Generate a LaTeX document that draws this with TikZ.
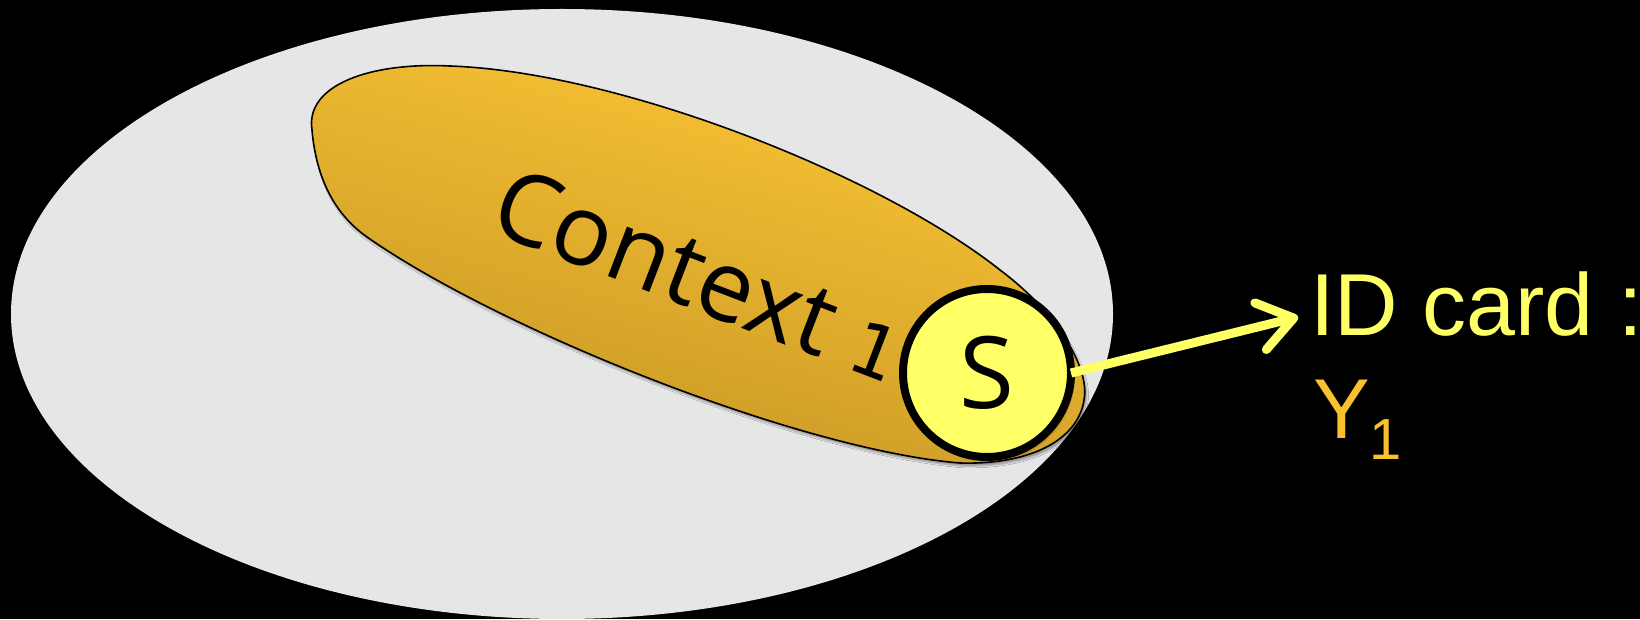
\documentclass[tikz,border=0pt]{standalone}
\usepackage{fontspec}
\usepackage{tikz}
\usetikzlibrary{arrows.meta, shadows.blur}
\newfontfamily\ctxfont{Open Sans}
\newfontfamily\digitfont{DejaVu Sans}
\newfontfamily\cardfont{Liberation Sans}
\definecolor{worldcolor}{RGB}{230,230,230}
\definecolor{ctxtop}{RGB}{252,198,52}
\definecolor{ctxbottom}{RGB}{198,150,38}
\definecolor{subjcolor}{RGB}{255,255,102}
\definecolor{ycolor}{RGB}{251,192,45}
% small figure with foot, as in an old-style 1
\newcommand{\lowone}{{\digitfont\fontsize{73}{80}\selectfont 1}}

\begin{document}
\begin{tikzpicture}[x=1pt, y=1pt,
          world/.style={fill=worldcolor},
          ctx/.style={draw=black, line width=1.6pt, top color=ctxtop, bottom color=ctxbottom,
                      shading angle=-15,
                      blur shadow={shadow xshift=2pt, shadow yshift=-3pt, shadow opacity=35}},
          subj/.style={circle, draw=black, line width=8pt, fill=subjcolor,
                       minimum size=168pt, inner sep=0pt, outer sep=0pt,
                       font=\ctxfont\fontsize{100}{110}\selectfont,
                       blur shadow={shadow xshift=2pt, shadow yshift=-3pt, shadow opacity=35}},
          ctxlabel/.style={font=\ctxfont\fontsize{99}{110}\selectfont, inner sep=0pt},
          idtext/.style={text=subjcolor, font=\cardfont\fontsize{88}{100}\selectfont, inner sep=0pt},
          ytext/.style={text=ycolor, font=\cardfont\fontsize{85}{100}\selectfont, inner sep=0pt},
          link/.style={draw=subjcolor, line width=9pt, -{Straight Barb[length=34pt, width=48pt, round]}}]

          \useasboundingbox (0,0) rectangle (1640,619);
          \fill[black] (0,0) rectangle (1640,619);

          % Outer world
          \fill[world] (562,305) ellipse [x radius=551, y radius=305];

          % Context region
          \path[ctx] (312,489) .. controls (305,534) and (370,557) .. (450,553)
            .. controls (620,547) and (880,444) .. (1000,349)
            .. controls (1060,304) and (1090,249) .. (1084,219)
            .. controls (1078,179) and (1030,154) .. (960,156)
            .. controls (800,169) and (500,289) .. (367,382)
            .. controls (327,410) and (315,454) .. (312,489) -- cycle;

          % Nodes
          \node[ctxlabel, rotate=-21, anchor=base west] (ctx1) at (486,389) {Context \lowone};
          \node[subj] (s) at (987,246) {S};
          \coordinate (tip) at (1298,302);

          \node[idtext, anchor=base west] (idcard) at (1310,283) {ID card :};
          \node[ytext, anchor=base west] (yval) at (1313,181)
            {Y\raisebox{-21pt}{\fontsize{58}{60}\selectfont 1}};

          % Link to the card
          \draw[link] (s.east) -- (tip);
        \end{tikzpicture}
\end{document}
